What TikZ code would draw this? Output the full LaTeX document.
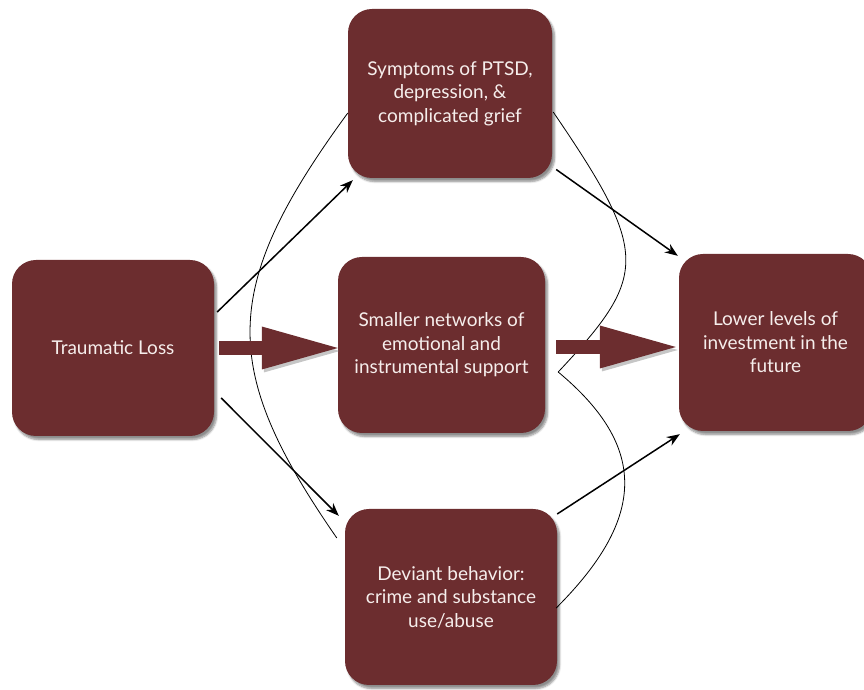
\documentclass[tikz,border=0pt]{standalone}
\usepackage{fontspec}
\setmainfont{Lato}
\usetikzlibrary{arrows.meta,shadows.blur}
\definecolor{boxred}{RGB}{108,45,47}
\definecolor{boxtext}{RGB}{246,238,236}

\begin{document}
\begin{tikzpicture}[x=1pt,y=1pt,
		box/.style={rectangle,rounded corners=24pt,fill=boxred,text=boxtext,align=center,inner sep=0pt,
			font=\fontsize{19}{23.5}\selectfont,
			blur shadow={shadow xshift=2.5pt,shadow yshift=-3.5pt,shadow blur steps=6,shadow opacity=45}},
		link/.style={draw=black,line width=1.5pt,-{Stealth[length=13pt,width=10pt]}},
		arcline/.style={draw=black,line width=0.8pt},
		fat/.style={draw=boxred,line width=14pt,-{Triangle[length=76pt,width=43pt,line width=0pt]},
			preaction={draw=black!50,opacity=.45,transform canvas={shift={(2pt,-3pt)}}}}]
		\useasboundingbox (0,0) rectangle (864,690);
		\node[box,minimum width=202pt,minimum height=176pt] (loss) at (113,342) {Traumatic Loss};
		\node[box,minimum width=204pt,minimum height=169pt] (sym) at (450,596.5) {Symptoms of PTSD,\\depression, \&\\complicated grief};
		\node[box,minimum width=207pt,minimum height=176pt] (net) at (441.5,345) {Smaller networks of\\emotional and\\instrumental support};
		\node[box,minimum width=193pt,minimum height=177pt] (low) at (775.5,347.5) {Lower levels of\\investment in the\\future};
		\node[box,minimum width=212pt,minimum height=176pt] (dev) at (451,93) {Deviant behavior:\\crime and substance\\use/abuse};
		\coordinate (kink) at ([xshift=13pt,yshift=-27pt]net.east);
		\draw[arcline] ([yshift=-19.5pt]sym.west) .. controls +(-129,-176) and +(-117,169) .. ([xshift=-8pt,yshift=59pt]dev.west);
		\draw[arcline] ([xshift=1pt,yshift=-18.5pt]sym.east) .. controls +(97,-142) and +(90,96) .. (kink);
		\draw[arcline] (kink) .. controls +(90,-75) and +(90,90) .. ([xshift=-1pt,yshift=-11pt]dev.east);
		\draw[fat] ([xshift=5pt]loss.east) -- (loss.east -| net.west);
		\draw[fat] ([xshift=11pt,yshift=-2pt]net.east) -- ([xshift=-3pt,yshift=-2pt]net.east -| low.west);
		\draw[link] ([xshift=3pt,yshift=36pt]loss.east) -- ([xshift=5pt,yshift=-2pt]sym.south west);
		\draw[link] ([xshift=7pt,yshift=-50pt]loss.east) -- ([xshift=-6pt,yshift=-7pt]dev.north west);
		\draw[link] ([xshift=4pt,yshift=-76pt]sym.east) -- ([xshift=-1pt,yshift=-2pt]low.north west);
		\draw[link] ([yshift=83pt]dev.east) -- ([xshift=1pt,yshift=-3pt]low.south west);
	\end{tikzpicture}
\end{document}
